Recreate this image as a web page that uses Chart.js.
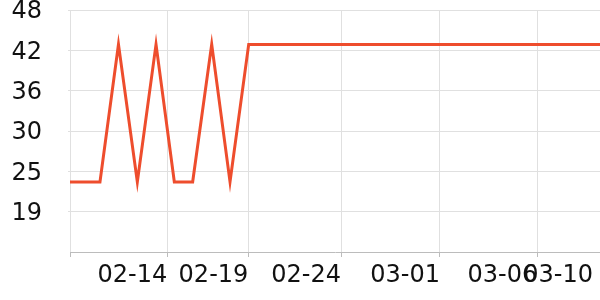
<!DOCTYPE html>
<html>
<head>
<meta charset="utf-8">
<script src="https://cdn.jsdelivr.net/npm/chart.js@4/dist/chart.umd.min.js"></script>
<style>
  html, body { margin: 0; padding: 0; background: #fff; }
  #wrap { width: 600px; height: 300px; position: relative; }
</style>
</head>
<body>
<div id="wrap"><canvas id="c" width="600" height="300"></canvas></div>
<script>
// Data (x in sample-step units, y in value units)
const pointPos = [0, 1.62, 2.62, 3.64, 4.65, 5.64, 6.63, 7.66, 8.65, 9.66, 28.65];
const values   = [23, 23, 43, 23, 43, 23, 23, 43, 23, 43, 43];

// X tick positions and labels
const xTickPos    = [0, 5.26, 9.64, 14.65, 20.0, 25.26, 28.27];
const xTickLabels = ['', '02-14', '02-19', '02-24', '03-01', '03-06', '03-10'];

// Y axis range and tick labels (top to bottom)
const yMin = 12.8, yMax = 48;
const yTickLabels = ['48', '42', '36', '30', '25', '19', ''];

const lineColor = 'rgb(238,77,45)';
const gridColor = '#e0e0e0';
const axisColor = '#bcbcbc';
const FONT = 'DejaVu Sans';

const ctx = document.getElementById('c').getContext('2d');
new Chart(ctx, {
  type: 'line',
  data: {
    datasets: [{
      data: pointPos.map((x, i) => ({ x: x, y: values[i] })),
      borderColor: lineColor,
      borderWidth: 3,
      pointRadius: 0,
      tension: 0,
      fill: false
    }]
  },
  options: {
    responsive: false,
    animation: false,
    layout: { padding: { top: 10, right: 0, left: 0, bottom: 0 } },
    plugins: { legend: { display: false }, tooltip: { enabled: false } },
    scales: {
      x: {
        type: 'linear',
        min: 0,
        max: 28.65,
        afterBuildTicks: (s) => { s.ticks = xTickPos.map(v => ({ value: v })); },
        afterFit: (s) => { s.height = 48; s.paddingLeft = 0; s.paddingRight = 0; },
        ticks: {
          autoSkip: false,
          maxRotation: 0,
          align: 'end',
          padding: 4,
          color: '#111',
          font: { family: FONT, size: 24 },
          callback: (v, i) => xTickLabels[i]
        },
        grid: {
          color: (c) => (c.index === xTickPos.length - 1 ? 'rgba(0,0,0,0)' : gridColor),
          tickColor: (c) => (c.index === xTickPos.length - 1 ? 'rgba(0,0,0,0)' : axisColor),
          tickLength: 5,
          lineWidth: 1
        },
        border: { display: true, color: axisColor, width: 1 }
      },
      y: {
        type: 'linear',
        min: yMin,
        max: yMax,
        afterBuildTicks: (s) => {
          const n = yTickLabels.length;
          const t = [];
          for (let i = 0; i < n; i++) t.push({ value: yMin + (yMax - yMin) * i / (n - 1) });
          s.ticks = t;
        },
        afterFit: (s) => { s.width = 70; s.paddingTop = 0; s.paddingBottom = 0; },
        ticks: {
          padding: 26,
          labelOffset: 2,
          color: '#111',
          font: { family: FONT, size: 24 },
          callback: (v, i, arr) => yTickLabels[arr.length - 1 - i]
        },
        grid: {
          color: (c) => (c.index === 0 ? 'rgba(0,0,0,0)' : gridColor),
          tickColor: (c) => (c.index === 0 ? 'rgba(0,0,0,0)' : gridColor),
          tickLength: 2,
          lineWidth: 1
        },
        border: { display: false }
      }
    }
  }
});
</script>
</body>
</html>
